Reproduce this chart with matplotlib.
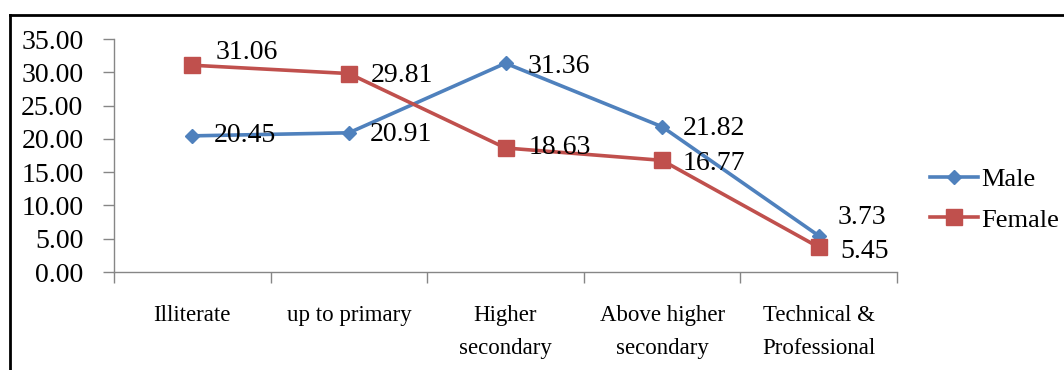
import matplotlib
matplotlib.use("Agg")
import matplotlib.pyplot as plt
from matplotlib.lines import Line2D

# Data
categories = ["Illiterate", "up to primary", "Higher\nsecondary",
              "Above higher\nsecondary", "Technical &\nProfessional"]
male = [20.45, 20.91, 31.36, 21.82, 5.45]
female = [31.06, 29.81, 18.63, 16.77, 3.73]
y_ticks = [0, 5, 10, 15, 20, 25, 30, 35]

# Data label offsets (pixels) relative to each point
male_offsets = [(21, 0), (21, -2), (22, -3), (21, -2), (22, -16)]
female_offsets = [(23, 13), (22, -2), (23, 0), (21, -3), (19, 30)]

BLUE = "#4F81BD"
RED = "#C0504D"
GRAY = "#868686"
FONT = "Liberation Serif"

plt.rcParams["font.family"] = [FONT, "DejaVu Serif"]

W, H = 1064, 370
fig = plt.figure(figsize=(W / 100, H / 100), dpi=100)
ax = fig.add_axes([114 / W, 1 - 272 / H, (897 - 114) / W, (272 - 39) / H])

x = [i + 0.5 for i in range(len(categories))]
ax.plot(x, male, color=BLUE, lw=2.6, marker="D", ms=7.5,
        mfc=BLUE, mec=BLUE, label="Male", zorder=3)
ax.plot(x, female, color=RED, lw=2.6, marker="s", ms=11,
        mfc=RED, mec=RED, label="Female", zorder=3)

for xi, v, (dx, dy) in zip(x, male, male_offsets):
    ax.annotate(f"{v:.2f}", (xi, v), xytext=(dx, dy), textcoords="offset pixels",
                ha="left", va="center", fontsize=20, color="black", zorder=4)
for xi, v, (dx, dy) in zip(x, female, female_offsets):
    ax.annotate(f"{v:.2f}", (xi, v), xytext=(dx, dy), textcoords="offset pixels",
                ha="left", va="center", fontsize=20, color="black", zorder=4)

ax.set_xlim(0, len(categories))
ax.set_ylim(0, 35)
ax.set_yticks(y_ticks)
ax.set_yticklabels([f"{t:.2f}" for t in y_ticks], fontsize=20)
ax.tick_params(axis="y", direction="out", length=8, width=1, color=GRAY, pad=14)

ax.set_xticks(range(len(categories) + 1))
ax.set_xticklabels([])
ax.tick_params(axis="x", which="major", direction="out", length=8, width=1, color=GRAY)
ax.set_xticks(x, minor=True)
ax.set_xticklabels(categories, minor=True, fontsize=16.5, linespacing=1.7,
                   ha="center", multialignment="center")
ax.tick_params(axis="x", which="minor", length=0, pad=24)

for side in ("top", "right"):
    ax.spines[side].set_visible(False)
for side in ("left", "bottom"):
    ax.spines[side].set_color(GRAY)
    ax.spines[side].set_linewidth(1)

leg = fig.legend(loc="center left", bbox_to_anchor=(930 / W, 1 - 199.5 / H),
                 frameon=False, fontsize=19, handlelength=1.8, handletextpad=0.15,
                 labelspacing=0.65, borderpad=0, borderaxespad=0)

# Outer frame: top and left edges
fig.add_artist(Line2D([10 / W, 1], [1 - 15 / H, 1 - 15 / H], transform=fig.transFigure,
                      color="black", lw=2))
fig.add_artist(Line2D([10 / W, 10 / W], [0, 1 - 15 / H], transform=fig.transFigure,
                      color="black", lw=2))

fig.savefig("out.png", dpi=100)
